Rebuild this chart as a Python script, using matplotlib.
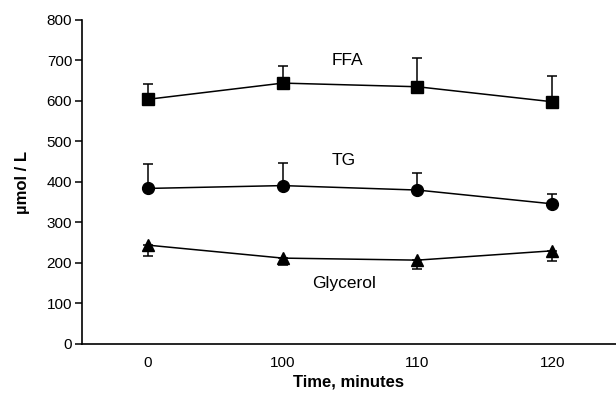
import matplotlib
matplotlib.use("Agg")
import matplotlib.pyplot as plt
import numpy as np

plt.rcParams['font.family'] = ['Liberation Sans', 'DejaVu Sans']

categories = ["0", "100", "110", "120"]
ffa = [604, 644, 635, 598]
ffa_err = [37, 43, 70, 64]
tg = [384, 391, 380, 346]
tg_err = [60, 57, 43, 24]
glycerol = [244, 212, 207, 230]
glycerol_err = [27, 17, 22, 25]
yticks = [0, 100, 200, 300, 400, 500, 600, 700, 800]

fig = plt.figure(figsize=(6.16, 3.98), dpi=100)
ax = fig.add_axes([0.133, 0.1357, 0.867, 0.8143])
x = np.arange(len(categories))

def series(vals, errs, marker, upper, ms):
    z = np.zeros(len(errs))
    yerr = [z, errs] if upper else [errs, z]
    ax.errorbar(x, vals, yerr=yerr, color='black', marker=marker, ms=ms,
                lw=1.1, elinewidth=1.1, capsize=3.8, capthick=1.1)

series(ffa, ffa_err, 's', True, 8)
series(tg, tg_err, 'o', True, 8.5)
series(glycerol, glycerol_err, '^', False, 9)

ax.text(1.48, 701, "FFA", ha='center', va='center', fontsize=12.5)
ax.text(1.45, 454, "TG", ha='center', va='center', fontsize=12.5)
ax.text(1.455, 150, "Glycerol", ha='center', va='center', fontsize=12.5)

ax.set_xlim(-0.49, 3.474)
ax.set_ylim(0, 800)
ax.set_xticks(x)
ax.set_xticklabels(categories, fontsize=11)
ax.set_yticks(yticks)
ax.set_yticklabels([str(v) for v in yticks], fontsize=11)
ax.tick_params(axis='x', length=0, pad=9)
ax.tick_params(axis='y', direction='out', length=5, width=1.1, pad=2)
for s in ['top', 'right']:
    ax.spines[s].set_visible(False)
for s in ['left', 'bottom']:
    ax.spines[s].set_linewidth(1.2)
ax.set_xlabel("Time, minutes", fontsize=12, fontweight='bold', labelpad=3)
ax.set_ylabel("µmol / L", fontsize=12, fontweight='bold', labelpad=12)

fig.savefig("out.png", dpi=100)
